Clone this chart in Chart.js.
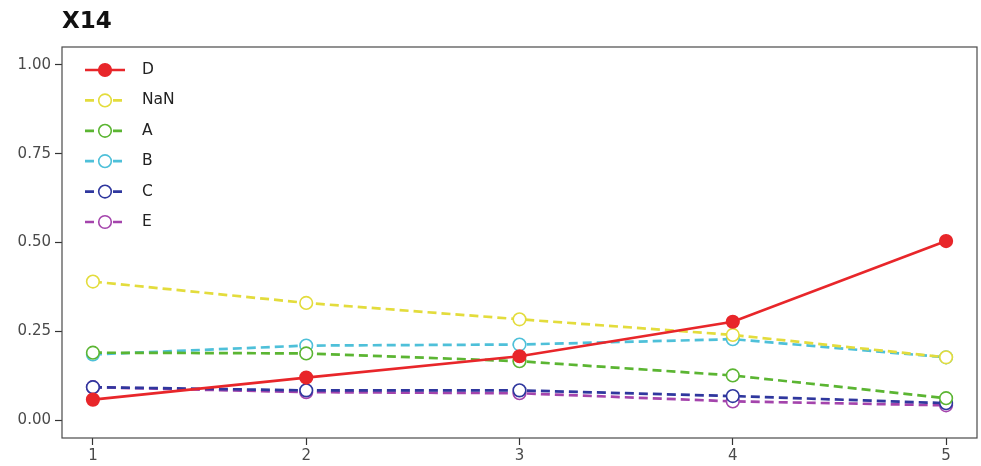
<!DOCTYPE html>
<html>
<head>
<meta charset="utf-8">
<script src="https://cdn.jsdelivr.net/npm/chart.js@4.4.1/dist/chart.umd.min.js"></script>
<style>
  html, body { margin: 0; padding: 0; background: #fff; }
  #wrap { position: relative; width: 981px; height: 466px; }
</style>
</head>
<body>
<div id="wrap"><canvas id="chart" width="981" height="466"></canvas></div>
<script>
// valores
const xValues = [1, 2, 3, 4, 5];
const seriesNames = ['D', 'NaN', 'A', 'B', 'C', 'E'];
const seriesD = [0.058, 0.12, 0.18, 0.277, 0.504];
const seriesNaN = [0.39, 0.33, 0.284, 0.24, 0.177];
const seriesA = [0.19, 0.188, 0.166, 0.126, 0.062];
const seriesB = [0.185, 0.21, 0.213, 0.228, 0.177];
const seriesC = [0.093, 0.084, 0.084, 0.068, 0.048];
const seriesE = [0.093, 0.079, 0.076, 0.053, 0.042];
const yTicks = [0, 0.25, 0.5, 0.75, 1.0];

const colors = ['#e8262a', '#e3dc3c', '#5bb532', '#4ec0d9', '#2f379e', '#a444ac'];
const allSeries = [seriesD, seriesNaN, seriesA, seriesB, seriesC, seriesE];

const FONT = "'DejaVu Sans', sans-serif";

const datasets = allSeries.map((values, i) => {
    const filled = i === 0;
    return {
        label: seriesNames[i],
        data: values.map((v, j) => ({ x: xValues[j], y: v })),
        borderColor: colors[i],
        borderWidth: 2.7,
        borderDash: filled ? [] : [9, 5],
        pointRadius: 6.3,
        pointHoverRadius: 6.3,
        pointBorderWidth: 1.6,
        pointBackgroundColor: filled ? colors[i] : '#ffffff',
        pointBorderColor: colors[i],
        tension: 0,
    };
});

// moldura, título e legenda estilo matplotlib
const framePlugin = {
    id: 'frame',
    afterDraw(chart) {
        const { ctx, chartArea: a } = chart;
        ctx.save();
        ctx.strokeStyle = '#4a4a4a';
        ctx.lineWidth = 1.2;
        ctx.strokeRect(a.left, a.top, a.right - a.left, a.bottom - a.top);

        // título
        ctx.fillStyle = '#111';
        ctx.font = 'bold 23px ' + FONT;
        ctx.textBaseline = 'alphabetic';
        ctx.textAlign = 'left';
        ctx.fillText('X14', a.left, 28);

        // legenda
        ctx.font = '15.5px ' + FONT;
        ctx.textBaseline = 'middle';
        chart.data.datasets.forEach((ds, i) => {
            const y = 70 + i * 30.4;
            ctx.strokeStyle = ds.borderColor;
            ctx.lineWidth = 2.7;
            ctx.setLineDash(ds.borderDash);
            ctx.beginPath();
            ctx.moveTo(85, y);
            ctx.lineTo(125, y);
            ctx.stroke();
            ctx.setLineDash([]);
            ctx.beginPath();
            ctx.arc(105, y, 6.3, 0, Math.PI * 2);
            ctx.fillStyle = ds.pointBackgroundColor;
            ctx.fill();
            ctx.lineWidth = 1.6;
            ctx.stroke();
            ctx.fillStyle = '#222';
            ctx.fillText(ds.label, 142, y);
        });
        ctx.restore();
    }
};

new Chart(document.getElementById('chart'), {
    type: 'line',
    data: { datasets },
    options: {
        responsive: false,
        animation: false,
        layout: { autoPadding: false, padding: { left: 0, top: 47, right: 4, bottom: 0 } },
        plugins: {
            legend: { display: false },
            title: { display: false },
            tooltip: { enabled: false },
        },
        scales: {
            x: {
                type: 'linear',
                min: 0.855,
                max: 5.145,
                afterBuildTicks: (s) => { s.ticks = xValues.map(v => ({ value: v })); },
                afterFit: (s) => { s.height = 28; s.paddingRight = 0; s.paddingLeft = 0; },
                border: { display: false },
                grid: { drawOnChartArea: false, drawTicks: true, tickLength: 7, tickColor: '#333', tickWidth: 1.2 },
                ticks: { color: '#4a4a4a', font: { family: FONT, size: 15 }, padding: 2, callback: v => String(v) },
            },
            y: {
                min: -0.05,
                max: 1.05,
                afterBuildTicks: (s) => { s.ticks = yTicks.map(v => ({ value: v })); },
                afterFit: (s) => { s.width = 62; },
                border: { display: false },
                grid: { drawOnChartArea: false, drawTicks: true, tickLength: 7, tickColor: '#333', tickWidth: 1.2 },
                ticks: { color: '#4a4a4a', font: { family: FONT, size: 15 }, padding: 4, callback: v => v.toFixed(2) },
            },
        },
    },
    plugins: [framePlugin],
});
</script>
</body>
</html>
